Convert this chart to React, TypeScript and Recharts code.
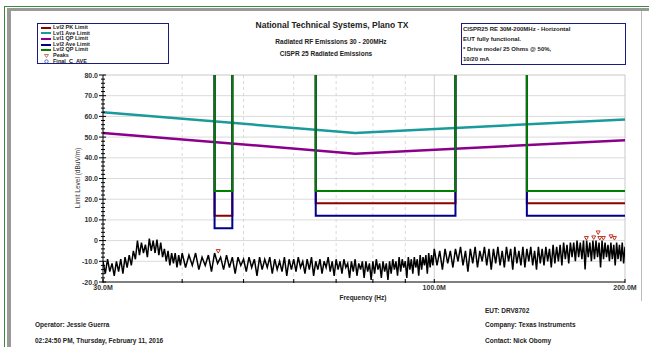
import React from 'react';
import { ComposedChart, Line, Scatter, XAxis, YAxis, ReferenceLine } from 'recharts';

const FONT = '"Liberation Sans", Arial, sans-serif';

// limit levels in dBuV/m against frequency in MHz
const lvl1AveLimit: [number, number][] = [[30, 62], [75, 52], [200, 58.5]];
const lvl1QpLimit: [number, number][] = [[30, 52], [75, 42], [200, 48.5]];
const bandEdges: [number, number][] = [[45, 48], [65, 108], [140, 200]];
const lvl2PkLevels = [12, 18, 18];
const lvl2AveLevels = [6, 12, 12];
const lvl2QpLevels = [24, 24, 24];
const OFF_SCALE = 200; // outside the bands the level 2 limits are off the top

// measured sweep, [MHz, dBuV/m]
const trace30to40: [number, number][] = [
  [30, -10], [30.25, -16], [30.5, -9], [30.75, -15], [31, -11], [31.25, -17], [31.5, -10], [31.75, -15],
  [32, -9], [32.25, -16], [32.5, -8], [32.75, -13], [33, -7], [33.25, -12], [33.5, -5], [33.75, -9],
  [34, 0], [34.25, -7], [34.5, -1], [34.75, -6], [35, -2], [35.25, -8], [35.5, 1], [35.75, -5],
  [36, 0], [36.25, -6], [36.5, 0.5], [36.75, -7], [37, -1], [37.25, -8], [37.5, -4], [37.75, -10],
  [38, -5], [38.25, -12], [38.5, -6], [38.75, -11], [39, -6], [39.25, -13], [39.5, -7], [39.75, -12],
];
const trace40to60: [number, number][] = [
  [40, -6], [40.5, -13], [41, -7], [41.5, -12], [42, -6], [42.5, -14], [43, -8], [43.5, -12],
  [44, -7], [44.5, -15], [45, -6], [45.5, -11], [46, -8], [46.5, -14], [47, -7], [47.5, -13],
  [48, -8], [48.5, -16], [49, -8], [49.5, -12], [50, -9], [50.5, -15], [51, -8], [51.5, -13],
  [52, -9], [52.5, -17], [53, -8], [53.5, -14], [54, -9], [54.5, -13], [55, -8], [55.5, -16],
  [56, -9], [56.5, -14], [57, -10], [57.5, -15], [58, -8], [58.5, -17], [59, -9], [59.5, -14],
];
const trace60to100: [number, number][] = [
  [60, -9], [60.5, -15], [61, -8], [61.5, -13], [62, -10], [62.5, -16], [63, -9], [63.5, -14],
  [64, -8], [64.5, -17], [65, -10], [65.5, -14], [66, -9], [66.5, -16], [67, -10], [67.5, -13],
  [68, -8], [68.5, -15], [69, -10], [69.5, -17], [70, -9], [70.5, -14], [71, -10], [71.5, -16],
  [72, -9], [72.5, -13], [73, -11], [73.5, -18], [74, -10], [74.5, -15], [75, -9], [75.5, -17],
  [76, -11], [76.5, -14], [77, -10], [77.5, -18], [78, -10], [78.5, -15], [79, -11], [79.5, -19],
  [80, -10], [80.5, -16], [81, -9], [81.5, -14], [82, -11], [82.5, -18], [83, -10], [83.5, -15],
  [84, -11], [84.5, -19], [85, -10], [85.5, -16], [86, -9], [86.5, -14], [87, -10], [87.5, -17],
  [88, -8], [88.5, -15], [89, -9], [89.5, -13], [90, -10], [90.5, -18], [91, -8], [91.5, -14],
  [92, -9], [92.5, -16], [93, -8], [93.5, -13], [94, -9], [94.5, -17], [95, -7], [95.5, -14],
  [96, -8], [96.5, -12], [97, -7], [97.5, -16], [98, -6], [98.5, -13], [99, -7], [99.5, -12],
];
const trace100to200: [number, number][] = [
  [100, -4], [101, -12], [102, -5], [103, -14], [104, -4], [105, -11], [106, -5], [107, -13],
  [108, -4], [109, -10], [110, -3], [111, -12], [112, -5], [113, -15], [114, -4], [115, -11],
  [116, -3], [117, -13], [118, -5], [119, -10], [120, -3], [121, -12], [122, -4], [123, -14],
  [124, -4], [125, -11], [126, -3], [127, -12], [128, -5], [129, -13], [130, -3], [131, -10],
  [132, -4], [133, -14], [134, -3], [135, -11], [136, -5], [137, -12], [138, -3], [139, -13],
  [140, -4], [141, -10], [142, -3], [143, -12], [144, -5], [145, -14], [146, -3], [147, -11],
  [148, -4], [149, -12], [150, -3], [151, -10], [152, -4], [153, -13], [154, -2], [155, -11],
  [156, -3], [157, -10], [158, -2], [159, -12], [160, -1], [161, -9], [162, -2], [163, -11],
  [164, -1], [165, -8], [166, -1], [167, -10], [168, 0], [169, -8], [170, -1], [171, -9],
  [172, 0], [173, -14], [174, 0], [175, -8], [176, -1], [177, -10], [178, 0], [179, -9],
  [180, 0], [181, -8], [182, -1], [183, -13], [184, 0], [185, -9], [186, -1], [187, -8],
  [188, -2], [189, -10], [190, -1], [191, -9], [192, -2], [193, -12], [194, -1], [195, -9],
  [196, -2], [197, -10], [198, -1], [199, -11], [200, -3],
];
const peaks: [number, number][] = [
  [45.6, -5.3], [173.8, 1.0], [178.5, 1.3], [181.4, 3.7], [182.5, 1.0], [184.9, 1.0], [190.1, 1.8], [192.5, 1.0],
];

const yTicks = [-20, -18, -16, -14, -12, -10, -8, -6, -4, -2, 0, 2, 4, 6, 8, 10, 12, 14, 16, 18, 20, 22, 24, 26, 28, 30,
  32, 34, 36, 38, 40, 42, 44, 46, 48, 50, 52, 54, 56, 58, 60, 62, 64, 66, 68, 70, 72, 74, 76, 78, 80];
const yGridLines = [-10, 0, 10, 20, 30, 40, 50, 60, 70];
const xTicks = [30, 40, 50, 60, 70, 80, 90, 100, 200];
const xMinorGrid = [40, 50, 60, 70, 80, 90];
const xTickLabels: Record<number, string> = { 30: '30.0M', 100: '100.0M', 200: '200.0M' };

const legendItems = [
  { label: 'Lvl2 PK Limit', color: '#8b0000', kind: 'line' },
  { label: 'Lvl1 Ave Limit', color: '#1a9a9a', kind: 'line' },
  { label: 'Lvl1 QP Limit', color: '#8b008b', kind: 'line' },
  { label: 'Lvl2 Ave Limit', color: '#00008b', kind: 'line' },
  { label: 'Lvl2 QP Limit', color: '#008000', kind: 'line' },
  { label: 'Peaks', color: '#c0504d', kind: 'tri' },
  { label: 'Final_C_AVE', color: '#3050b0', kind: 'circle' },
];

const toPoints = (rows: [number, number][]) => rows.map(([f, v]) => ({ f, v }));

function stepLimit(levels: number[]) {
  const pts: { f: number; v: number }[] = [];
  bandEdges.forEach(([lo, hi], i) => {
    pts.push({ f: lo, v: OFF_SCALE }, { f: lo, v: levels[i] }, { f: hi, v: levels[i] });
    if (hi < 200) pts.push({ f: hi, v: OFF_SCALE });
  });
  return pts;
}

const traceData = toPoints([...trace30to40, ...trace40to60, ...trace60to100, ...trace100to200]);

function YTick({ x, y, payload }: any) {
  const major = payload.value % 10 === 0;
  return (
    <g>
      <line x1={x - (major ? 4 : 2)} x2={x + (major ? 3 : 2)} y1={y} y2={y} stroke="#000" strokeWidth={1} />
      {major && (
        <text x={x - 5} y={y + 2.5} textAnchor="end" fontSize={7} fontWeight="bold" fill="#333" fontFamily={FONT}>
          {payload.value === 0 ? '0' : payload.value.toFixed(1)}
        </text>
      )}
    </g>
  );
}

function XTick({ x, y, payload }: any) {
  const label = xTickLabels[payload.value];
  return (
    <g>
      <line x1={x} x2={x} y1={y - 3} y2={y + 1} stroke="#000" strokeWidth={1} />
      {label && (
        <text x={x} y={y + 8} textAnchor="middle" fontSize={7} fontWeight="bold" fill="#333" fontFamily={FONT}>
          {label}
        </text>
      )}
    </g>
  );
}

function PeakMarker({ cx, cy }: any) {
  return <path d={`M${cx - 2},${cy - 2} L${cx + 2},${cy - 2} L${cx},${cy + 1.5} Z`} fill="none" stroke="#c0392b" strokeWidth={1} />;
}

function Txt({ x, y, size = 6.5, bold = true, center = false, children }: any) {
  return (
    <div
      style={{
        position: 'absolute',
        left: x,
        top: y - size * 0.6,
        fontSize: size,
        lineHeight: 1.2,
        fontWeight: bold ? 'bold' : 'normal',
        fontFamily: FONT,
        color: '#222',
        whiteSpace: 'nowrap',
        transform: center ? 'translateX(-50%)' : undefined,
      }}
    >
      {children}
    </div>
  );
}

export default function App() {
  return (
    <div style={{ position: 'absolute', left: 0, top: 0, width: 649, height: 347, background: '#fff', overflow: 'hidden' }}>
      {/* window frame */}
      <div style={{ position: 'absolute', left: 4, top: 6, width: 645, height: 1, background: '#3a8a3a' }} />
      <div style={{ position: 'absolute', left: 7, top: 8, width: 642, height: 3, background: '#999' }} />
      <div style={{ position: 'absolute', left: 4, top: 6, width: 1, height: 341, background: '#3a8a3a' }} />
      <div style={{ position: 'absolute', left: 7, top: 8, width: 4, height: 339, background: '#999' }} />
      <div style={{ position: 'absolute', left: 641, top: 11, width: 1, height: 290, background: '#bbb' }} />

      <ComposedChart width={649} height={347} margin={{ top: 75, right: 24, left: 0, bottom: 0 }} style={{ position: 'absolute', left: 0, top: 0 }}>
        <XAxis
          dataKey="f"
          type="number"
          scale="log"
          domain={[30, 200]}
          allowDataOverflow
          ticks={xTicks}
          interval={0}
          height={65}
          axisLine={{ stroke: '#000' }}
          tickLine={false}
          tickSize={0}
          tickMargin={0}
          tick={<XTick />}
        />
        <YAxis
          dataKey="v"
          type="number"
          domain={[-20, 80]}
          allowDataOverflow
          ticks={yTicks}
          interval={0}
          width={103}
          axisLine={{ stroke: '#000' }}
          tickLine={false}
          tickSize={0}
          tickMargin={0}
          tick={<YTick />}
        />
        {yGridLines.map((v) => (
          <ReferenceLine key={`gy${v}`} y={v} stroke="#dadada" strokeWidth={1} />
        ))}
        {xMinorGrid.map((f) => (
          <ReferenceLine key={`gx${f}`} x={f} stroke="#d8d8d8" strokeDasharray="3 3" />
        ))}
        <ReferenceLine x={100} stroke="#d0d0d0" />
        <ReferenceLine y={80} stroke="#c8c8c8" />
        <ReferenceLine x={200} stroke="#c8c8c8" />

        <Line data={traceData} dataKey="v" stroke="#000" strokeWidth={1.5} dot={false} isAnimationActive={false} />
        <Line data={stepLimit(lvl2PkLevels)} dataKey="v" stroke="#8b0000" strokeWidth={2} dot={false} isAnimationActive={false} />
        <Line data={toPoints(lvl1AveLimit)} dataKey="v" stroke="#1a9a9a" strokeWidth={2.5} dot={false} isAnimationActive={false} />
        <Line data={toPoints(lvl1QpLimit)} dataKey="v" stroke="#8b008b" strokeWidth={2.5} dot={false} isAnimationActive={false} />
        <Line data={stepLimit(lvl2AveLevels)} dataKey="v" stroke="#00008b" strokeWidth={2} dot={false} isAnimationActive={false} />
        <Line data={stepLimit(lvl2QpLevels)} dataKey="v" stroke="#008000" strokeWidth={2} dot={false} isAnimationActive={false} />
        <Scatter data={toPoints(peaks)} dataKey="v" shape={<PeakMarker />} isAnimationActive={false} />
      </ComposedChart>

      {/* legend */}
      <div style={{ position: 'absolute', left: 37, top: 23, width: 130, height: 39, border: '1px solid #1a1a80', background: '#fff' }}>
        {legendItems.map((it, i) => (
          <div key={it.label} style={{ position: 'absolute', left: 3, top: 1 + i * 5.6, height: 5.6, display: 'flex', alignItems: 'center' }}>
            <div style={{ width: 10, display: 'flex', justifyContent: 'center' }}>
              {it.kind === 'line' && <div style={{ width: 10, height: 2, background: it.color }} />}
              {it.kind === 'tri' && (
                <svg width={5} height={4}><path d="M0.5,0.5 L4.5,0.5 L2.5,3.5 Z" fill="none" stroke={it.color} strokeWidth={0.8} /></svg>
              )}
              {it.kind === 'circle' && (
                <svg width={5} height={5}><circle cx={2.5} cy={2.5} r={1.7} fill="none" stroke={it.color} strokeWidth={0.8} /></svg>
              )}
            </div>
            <span style={{ marginLeft: 2, fontSize: 5.5, fontWeight: 'bold', fontFamily: FONT, color: '#222', lineHeight: 1 }}>{it.label}</span>
          </div>
        ))}
      </div>

      {/* info box */}
      <div style={{ position: 'absolute', left: 461, top: 23, width: 163, height: 40, border: '1px solid #1a1a80' }} />
      <Txt x={463} y={30} size={6}>CISPR25 RE 30M-200MHz - Horizontal</Txt>
      <Txt x={463} y={40} size={6}>EUT fully functional.</Txt>
      <Txt x={463} y={50} size={6}>* Drive mode/ 25  Ohms @ 50%,</Txt>
      <Txt x={463} y={60} size={6}>10/20 mA</Txt>

      {/* titles */}
      <Txt x={332} y={25} size={8.5} center>National Technical Systems, Plano TX</Txt>
      <Txt x={331} y={41.5} size={6.5} center>Radiated RF Emissions 30 - 200MHz</Txt>
      <Txt x={326} y={54} size={6.5} center>CISPR 25 Radiated Emissions</Txt>

      {/* axis titles */}
      <div
        style={{
          position: 'absolute',
          left: 77,
          top: 178,
          transform: 'translate(-50%, -50%) rotate(-90deg)',
          fontSize: 6.5,
          fontFamily: FONT,
          color: '#333',
          whiteSpace: 'nowrap',
        }}
      >
        Limit Level (dBuV/m)
      </div>
      <Txt x={363} y={298} center>Frequency (Hz)</Txt>

      {/* footer */}
      <Txt x={485} y={311}>EUT: DRV8702</Txt>
      <Txt x={35} y={325}>Operator: Jessie Guerra</Txt>
      <Txt x={485} y={325}>Company: Texas Instruments</Txt>
      <Txt x={35} y={341}>02:24:50 PM, Thursday, February 11, 2016</Txt>
      <Txt x={485} y={341}>Contact: Nick Obomy</Txt>
    </div>
  );
}
